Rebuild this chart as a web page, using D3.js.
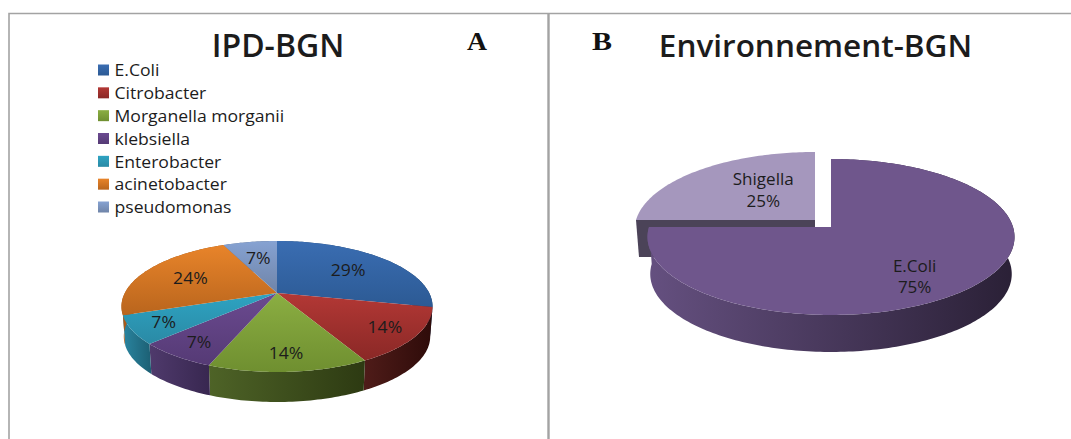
<!DOCTYPE html>
<html>
<head>
<meta charset="utf-8">
<script src="https://cdn.jsdelivr.net/npm/d3@7/dist/d3.min.js"></script>
<style>
html,body{margin:0;padding:0;background:#fff}
svg{display:block}
text{font-family:"Open Sans",sans-serif;fill:#1c1c1c}
.letter{font-family:"Liberation Serif",serif;font-weight:700;fill:#111}
</style>
</head>
<body>
<svg id="chart" width="1071" height="439"></svg>
<script>
// Isolates in IPD samples
const ipdCategories = ["E.Coli","Citrobacter","Morganella morganii","klebsiella","Enterobacter","acinetobacter","pseudomonas"];
const ipdValues = [29,14,14,7,7,24,7];
const ipdTop = ["#3a6db2","#b33835","#8bae42","#6b4a90","#2ea3c2","#e8842a","#86a2d2"];
const ipdBase = ["#2c5a94","#8a2826","#6f8f30","#553a75","#2a8aa5","#b9651d","#6f84a8"];
const ipdWallFrom = ["#234a78","#4f1c19","#4e6327","#4f3a6c","#2a85a0","#a85a1a","#5a6f90"];
const ipdWallTo = ["#1b3a5f","#2e0b09","#2d3a12","#382750","#1c5f73","#8a4a14","#4a5d78"];

// Isolates in environmental samples
const envCategories = ["E.Coli","Shigella"];
const envValues = [75,25];
const envTop = ["#6f568c","#a597bd"];
const envWallFrom = ["#655080","#4b4358"];
const envWallTo = ["#2a2036","#4b4358"];

const svg = d3.select("#chart");
const defs = svg.append("defs");

// Frame around the two panels
const frame = svg.append("g").attr("stroke","#a3a3a3").attr("fill","none");
frame.append("path").attr("stroke-width",1.6).attr("d","M9,439V13.5H1071");
frame.append("path").attr("stroke-width",2.4).attr("d","M548.5,13V439");

// Perspective disk: the centre projects to (cx,cy), rim bulges towards the viewer
function disk(cx, cy, R, b, k){
  const sx = d3.scaleLinear().domain([-1,1]).range([cx-R,cx+R]);
  const sy = d3.scaleLinear().domain([-1,1]).range([cy-b,cy+b]);
  return (u,v)=>{
    const w = 1-k*v;
    return [sx(u/w), sy(v/w)];
  };
}
const rim = (a)=>[Math.sin(a),-Math.cos(a)];
function arcPoints(a0,a1){
  const n = Math.max(2,Math.ceil(Math.abs(a1-a0)/0.02));
  return d3.range(n+1).map(i=>rim(a0+(a1-a0)*i/n));
}
let gid = 0;
function gradient(c0,c1,vertical){
  const id = "g"+(gid++);
  const g = defs.append("linearGradient").attr("id",id)
    .attr("x1",0).attr("y1",0).attr("x2",vertical?0:1).attr("y2",vertical?1:0);
  g.append("stop").attr("offset",0).attr("stop-color",c0);
  g.append("stop").attr("offset",1).attr("stop-color",c1);
  return `url(#${id})`;
}
const line = d3.line();

function wall(layer, proj, cx, depth, a0, a1, fill){
  const top = arcPoints(a0,a1).map(p=>proj(p[0],p[1]));
  const bottom = top.map(p=>[cx+(p[0]-cx)*0.985,p[1]+depth]).reverse();
  layer.append("path").attr("d",line(top.concat(bottom))+"Z").attr("fill",fill);
}
function face(layer, proj, a0, a1, fill){
  const pts = [proj(0,0)].concat(arcPoints(a0,a1).map(p=>proj(p[0],p[1])));
  layer.append("path").attr("d",line(pts)+"Z").attr("fill",fill);
}
// Body text runs slightly wider than the installed face, so it is stretched horizontally
function wideText(layer, x, y, size, str, anchor){
  return layer.append("text").attr("transform",`translate(${x},${y}) scale(1.1,1)`)
    .attr("text-anchor",anchor||"middle").attr("dominant-baseline","central")
    .attr("font-size",size).text(str);
}

// Panel A
{
  const proj = disk(277,293,152.2,62.7,0.206);
  const arcs = d3.pie().sort(null)(ipdValues);
  const walls = svg.append("g"), faces = svg.append("g"), labels = svg.append("g");
  arcs.forEach((d,i)=>{
    wall(walls,proj,277,30,d.startAngle,d.endAngle,gradient(ipdWallFrom[i],ipdWallTo[i],false));
  });
  arcs.forEach((d,i)=>{
    face(faces,proj,d.startAngle,d.endAngle,gradient(ipdTop[i],ipdBase[i],true));
  });
  arcs.forEach((d,i)=>{
    const [u,v] = rim((d.startAngle+d.endAngle)/2);
    const f = v>0 ? 0.8 : 0.65;
    const [x,y] = proj(u*f,v*f);
    wideText(labels,x,y,16,d.value+"%");
  });

  svg.append("text").attr("x",278).attr("y",57).attr("text-anchor","middle")
    .attr("font-size",32).attr("font-weight",600).text("IPD-BGN");
  svg.append("text").attr("class","letter").attr("x",477).attr("y",50)
    .attr("text-anchor","middle").attr("font-size",26).attr("textLength",20).attr("lengthAdjust","spacingAndGlyphs").text("A");

  const legendY = d3.scalePoint().domain(ipdCategories).range([70,207]);
  const legend = svg.append("g").selectAll("g").data(ipdCategories).join("g")
    .attr("transform",d=>`translate(98,${legendY(d)})`);
  legend.append("rect").attr("y",-5.5).attr("width",11).attr("height",11)
    .attr("fill",(d,i)=>gradient(ipdTop[i],ipdBase[i],true));
  legend.each(function(d){ wideText(d3.select(this),16.5,0,16,d,"start"); });
}

// Panel B
{
  const arcs = d3.pie().sort(null)(envValues);
  const main = disk(831,227,182,76.7,0.128);
  const pulled = disk(815,220,179,76.7,0.128);
  const depth = 37;

  // Cut wall of the pulled-out slice, visible along its front edge
  const cut = [pulled(-1,0),pulled(0,0)];
  svg.append("path")
    .attr("d",line(cut.concat([[cut[1][0],cut[1][1]+depth],[cut[0][0]+3,cut[0][1]+depth]]))+"Z")
    .attr("fill",envWallFrom[1]);
  face(svg,pulled,arcs[1].startAngle,arcs[1].endAngle,envTop[1]);

  wall(svg,main,831,depth,arcs[0].startAngle,arcs[0].endAngle,gradient(envWallFrom[0],envWallTo[0],false));
  face(svg,main,arcs[0].startAngle,arcs[0].endAngle,envTop[0]);

  const spread = [[0.6,0.85],[0.43,0.57]];
  arcs.forEach((d,i)=>{
    const [u,v] = rim((d.startAngle+d.endAngle)/2);
    const [x,y] = (i?pulled:main)(u*spread[i][0],v*spread[i][1]);
    wideText(svg,x,y-11,15.5,envCategories[i]);
    wideText(svg,x,y+10.5,15.5,d.value+"%");
  });

  svg.append("text").attr("x",815.5).attr("y",57).attr("text-anchor","middle")
    .attr("font-size",31.5).attr("font-weight",600).text("Environnement-BGN");
  svg.append("text").attr("class","letter").attr("x",602).attr("y",50)
    .attr("text-anchor","middle").attr("font-size",26).attr("textLength",20).attr("lengthAdjust","spacingAndGlyphs").text("B");
}
</script>
</body>
</html>
